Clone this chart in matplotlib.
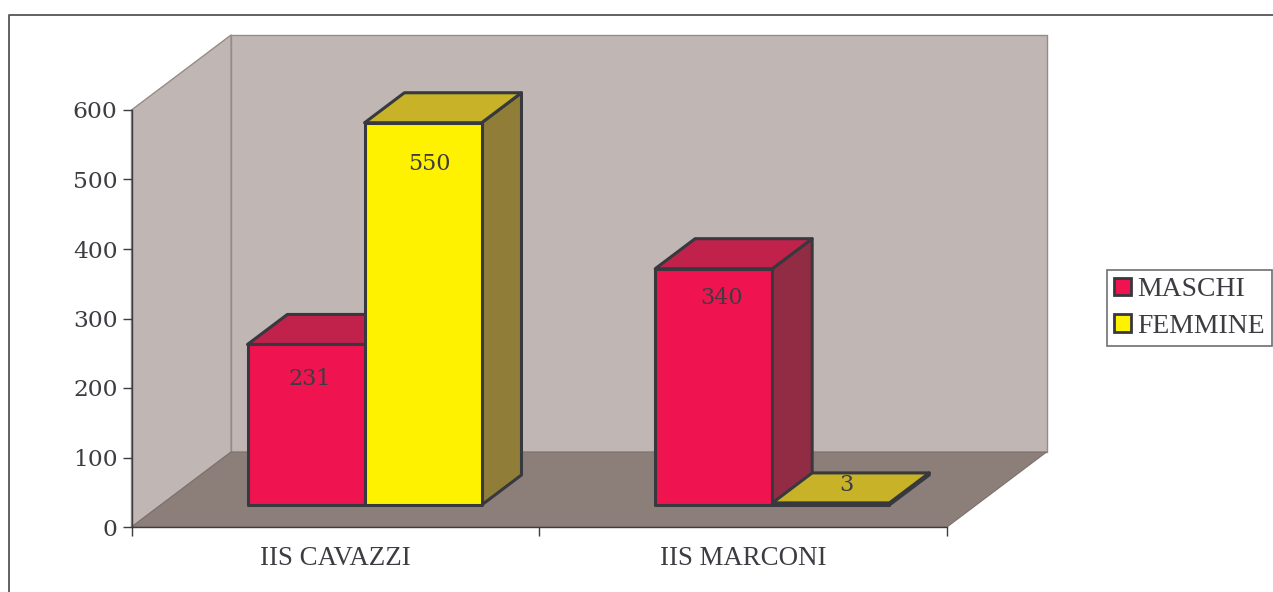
import matplotlib
matplotlib.use('Agg')
import matplotlib.pyplot as plt
from matplotlib.patches import Polygon, Rectangle

categories = ['IIS CAVAZZI', 'IIS MARCONI']
maschi = [231, 340]
femmine = [550, 3]
yticks = [0, 100, 200, 300, 400, 500, 600]

W, H = 1273, 592
PX_X = 407.5        # pixels per category
PX_Y = 417 / 600.   # pixels per unit
DEPTH_X = 99.5 / PX_X
DEPTH_Y = 75 / PX_Y
BAR_W = 117 / PX_X
EDGE = '#38383f'
TXT = '#3c3c42'
FONT = 'Liberation Serif'
NUM_FONT = 'DejaVu Serif'

plt.rcParams['font.family'] = FONT

fig = plt.figure(figsize=(W / 100, H / 100), dpi=100)
ax = fig.add_axes([131.5 / W, 1 - 527 / H, 815.5 / W, 417 / H])
ax.set_xlim(0, 2)
ax.set_ylim(0, 600)
ax.patch.set_visible(False)


### x, y in data units, d = depth 0 (front) .. 1 (back wall)
def proj(x, y, d):
    return (x + d * DEPTH_X, y + d * DEPTH_Y)


def face(pts, color, edge=EDGE, lw=2.2, z=2):
    ax.add_patch(Polygon([proj(*p) for p in pts], closed=True, facecolor=color, edgecolor=edge,
                         linewidth=lw, joinstyle='round', clip_on=False, zorder=z))


def bar3d(x0, value, front, top, side):
    d0 = 22 / 75.
    d1 = 52 / 75.
    x1 = x0 + BAR_W
    face([(x1, 0, d0), (x1, 0, d1), (x1, value, d1), (x1, value, d0)], side)
    face([(x0, value, d0), (x1, value, d0), (x1, value, d1), (x0, value, d1)], top)
    face([(x0, 0, d0), (x1, 0, d0), (x1, value, d0), (x0, value, d0)], front)


### walls and floor
face([(0, 0, 1), (2, 0, 1), (2, 600, 1), (0, 600, 1)], '#c0b6b3', edge='#978b88', lw=1.0, z=1)
face([(0, 0, 0), (0, 0, 1), (0, 600, 1), (0, 600, 0)], '#c0b6b3', edge='#978b88', lw=1.0, z=1)
face([(0, 0, 0), (2, 0, 0), (2, 0, 1), (0, 0, 1)], '#8c7f7a', edge='#7d716d', lw=0.8, z=1)

### bars, left to right so that the yellow covers the red top
for i in range(len(categories)):
    bar3d(i + 0.5 - BAR_W, maschi[i], '#ef1450', '#c0224c', '#922c45')
    bar3d(i + 0.5, femmine[i], '#fff200', '#c8b228', '#8f7d38')

### value labels
d0 = 22 / 75.
label_off = {231: (4, -35), 550: (6, -41), 340: (8, -29), 3: (16, 18)}
for i in range(len(categories)):
    for x0, v in ((i + 0.5 - BAR_W, maschi[i]), (i + 0.5, femmine[i])):
        xy = proj(x0 + BAR_W / 2, v, d0)
        off = label_off[v]
        ax.annotate(str(v), xy, xytext=(off[0] * 0.72, off[1] * 0.72), textcoords='offset points',
                    ha='center', va='center', fontsize=16, family=NUM_FONT, color=TXT, zorder=5,
                    annotation_clip=False)

### axes
for s in ('top', 'right'):
    ax.spines[s].set_visible(False)
for s in ('left', 'bottom'):
    ax.spines[s].set_color('#3c3c42')
    ax.spines[s].set_linewidth(1.0)
    ax.spines[s].set_zorder(3)
ax.set_yticks(yticks)
ax.set_xticks([0, 1, 2])
ax.set_xticklabels([])
ax.set_xticks([0.5, 1.5], minor=True)
ax.set_xticklabels(categories, minor=True)
ax.tick_params(axis='y', length=6.5, width=1.0, color='#3c3c42', labelcolor=TXT, pad=3.5)
for lab in ax.get_yticklabels():
    lab.set_family(NUM_FONT)
    lab.set_fontsize(16.8)
ax.tick_params(axis='x', which='major', length=6.5, width=1.0, color='#3c3c42')
ax.tick_params(axis='x', which='minor', length=0, labelsize=19.4, labelcolor=TXT, pad=13.5)

### outer frame runs off the right and bottom edge
fig.add_artist(plt.Line2D([9 / W, 9 / W, 1], [0, 1 - 15 / H, 1 - 15 / H], color='#55555a', lw=1.3))

### legend
handles = [Rectangle((0, 0), 1, 1, facecolor='#ef1450', edgecolor=EDGE, linewidth=2.0),
           Rectangle((0, 0), 1, 1, facecolor='#fff200', edgecolor=EDGE, linewidth=2.0)]
leg = fig.legend(handles, ['MASCHI', 'FEMMINE'], loc='upper left',
                 bbox_to_anchor=(1107 / W, 1 - 270 / H), bbox_transform=fig.transFigure,
                 fontsize=19.9, labelcolor=TXT, frameon=True, fancybox=False, edgecolor='#707074',
                 framealpha=1, borderpad=0.26, borderaxespad=0, handlelength=0.62, handleheight=0.62,
                 handletextpad=0.22, labelspacing=0.42)
leg.get_frame().set_linewidth(1.2)

fig.savefig('out.png', dpi=100)
